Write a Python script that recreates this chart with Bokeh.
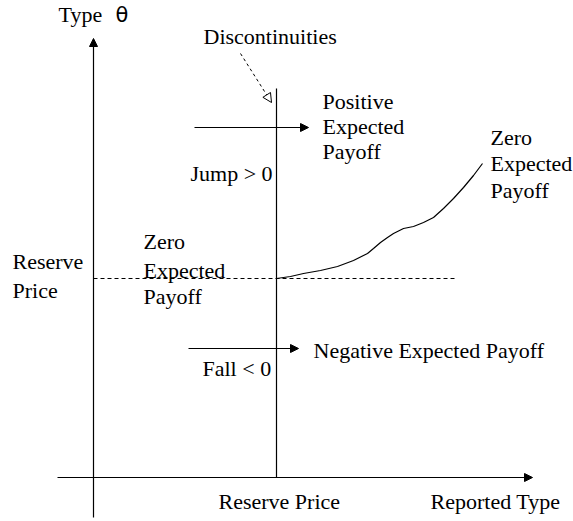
from bokeh.plotting import figure
from bokeh.models import Range1d, Arrow, NormalHead, ColumnDataSource
from bokeh.core.properties import value
from bokeh.embed import file_html
from bokeh.resources import INLINE

# ---- data (diagram coordinates; origin at the axes' crossing) ----
reserve_price = 183          # position of reserve price on reported-type axis
reserve_level = 199          # reserve price level on the type axis
dashed_end = 362
jump_top = 389               # top of discontinuity line

curve_x = [183, 197, 210, 227, 244, 260, 274, 280, 287, 294, 300, 310,
           320, 330, 340, 350, 360, 370, 380, 389]
curve_y = [199, 201, 204, 207, 211, 217, 224, 229, 235, 240, 244, 249,
           251, 255, 260, 269, 279, 290, 302, 314]

axis_x = [-36, 439]          # horizontal axis extent
axis_y = [-40, 439]          # vertical axis extent

payoff_arrow_x0 = [101, 95]
payoff_arrow_x1 = [215, 205]
payoff_arrow_y = [350, 129]

disc_arrow = [147, 424, 178, 375]

labels = ["Type", "Discontinuities", "Positive", "Expected", "Payoff",
          "Zero", "Expected", "Payoff", "Jump > 0", "Reserve", "Price",
          "Zero", "Expected", "Payoff", "Negative Expected Payoff",
          "Fall < 0", "Reserve Price", "Reported Type"]
label_x = [-35, 110, 229, 229, 229, 397, 397, 397, 97, -81, -81,
           50, 50, 50, 220, 109, 125, 337]
label_y = [463, 441, 376, 351, 326, 340, 314, 287, 304, 216, 187,
           236, 207, 181, 127, 109, -24, -24]
theta_label = ["θ"]
theta_x = [22]
theta_y = [463]

p = figure(width=573, height=521, output_backend="svg", toolbar_location=None,
           x_range=Range1d(-93, 480), y_range=Range1d(-44, 477),
           min_border=0, outline_line_color=None)
p.axis.visible = False
p.grid.visible = False

black = "black"
lw = 1.2

# axes with arrows
p.add_layout(Arrow(x_start=axis_x[0], y_start=0, x_end=axis_x[1], y_end=0,
                   line_color=black, line_width=lw,
                   end=NormalHead(size=8, fill_color=black, line_color=black)))
p.add_layout(Arrow(x_start=0, y_start=axis_y[0], x_end=0, y_end=axis_y[1],
                   line_color=black, line_width=lw,
                   end=NormalHead(size=8, fill_color=black, line_color=black)))

# reserve price vertical line
p.line([reserve_price, reserve_price], [0, jump_top], line_color=black, line_width=lw)

# dashed reserve level
p.line([0, dashed_end], [reserve_level, reserve_level], line_color=black,
       line_width=1, line_dash="4 3")

# curve
p.line(curve_x, curve_y, line_color=black, line_width=lw)

# payoff arrows
src = ColumnDataSource(dict(x0=payoff_arrow_x0, x1=payoff_arrow_x1, y=payoff_arrow_y))
p.add_layout(Arrow(source=src, x_start="x0", y_start="y", x_end="x1", y_end="y",
                   line_color=black, line_width=lw,
                   end=NormalHead(size=8, fill_color=black, line_color=black)))

# discontinuities dashed arrow
p.add_layout(Arrow(x_start=disc_arrow[0], y_start=disc_arrow[1],
                   x_end=disc_arrow[2], y_end=disc_arrow[3],
                   line_color=black, line_width=1, line_dash="3 3",
                   end=NormalHead(size=9, fill_color="white", line_color=black,
                                  line_width=1)))

# labels
p.text(x=label_x, y=label_y, text=labels, text_font=value("Liberation Serif"),
       text_font_size=value("22px"), text_baseline="alphabetic",
       text_align="left", text_color=black)
p.text(x=theta_x, y=theta_y, text=theta_label, text_font=value("DejaVu Sans"),
       text_font_size=value("21px"), text_baseline="alphabetic",
       text_align="left", text_color=black)

open("out.html", "w").write(file_html(p, INLINE))
